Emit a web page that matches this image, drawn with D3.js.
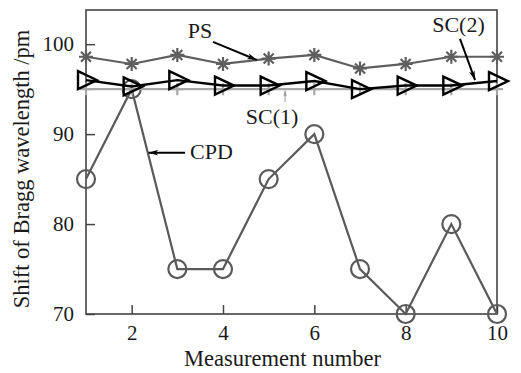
<!DOCTYPE html>
<html>
<head>
<meta charset="utf-8">
<script src="https://cdn.jsdelivr.net/npm/d3@7"></script>
<style>
  html, body { margin: 0; padding: 0; background: #fff; }
  svg { display: block; }
  text { font-family: "Liberation Serif", "Times New Roman", serif; fill: #1a1a1a; }
</style>
</head>
<body>
<svg id="chart" width="521" height="373"></svg>
<script>
// Measurement index
const measurements = [1, 2, 3, 4, 5, 6, 7, 8, 9, 10];
// Bragg wavelength shift (pm) for each sensing scheme
const psValues  = [98.6, 97.8, 98.8, 97.8, 98.4, 98.8, 97.3, 97.8, 98.6, 98.6];
const sc2Values = [96.0, 95.3, 96.0, 95.4, 95.4, 95.9, 95.0, 95.4, 95.4, 95.9];
const sc1Values = [95, 95, 95, 95, 95, 95, 95, 95, 95, 95];
const cpdValues = [85, 95, 75, 75, 85, 90, 75, 70, 80, 70];
// Axis ticks
const xTicks = [2, 4, 6, 8, 10];
const yTicks = [70, 80, 90, 100];
// Callout labels (data coordinates): text anchor, arrow tail, arrow head
const callouts = [
  { label: "PS",    tx: 3.23, ty: 100.7, x1: 3.78, y1: 100.26, x2: 4.74, y2: 98.25, kind: "dark" },
  { label: "SC(2)", tx: 8.58, ty: 101.37, x1: 9.19, y1: 100.59, x2: 9.52, y2: 96.0, kind: "dark" },
  { label: "SC(1)", tx: 4.50, ty: 91.12, x1: 5.36, y1: 93.57, x2: 5.36, y2: 94.85, kind: "light" },
  { label: "CPD",   tx: 3.28, ty: 87.23, x1: 3.17, y1: 87.93, x2: 2.37, y2: 87.93, kind: "dark" }
];

const W = 521, H = 373;
const margin = { left: 86, right: 24, top: 10, bottom: 59 };
const svg = d3.select("#chart");

const x = d3.scaleLinear().domain([1, 10]).range([margin.left, W - margin.right]);
const y = d3.scaleLinear().domain([70, 103.8]).range([H - margin.bottom, margin.top]);

// arrowheads
const defs = svg.append("defs");
defs.append("marker").attr("id", "headDark")
  .attr("viewBox", "0 -5 12 10").attr("refX", 12).attr("refY", 0)
  .attr("markerUnits", "userSpaceOnUse").attr("markerWidth", 12).attr("markerHeight", 8)
  .attr("orient", "auto")
  .append("path").attr("d", "M0,-3.6L12,0L0,3.6L3,0Z").attr("fill", "#000");
defs.append("marker").attr("id", "headLight")
  .attr("viewBox", "0 -5 10 10").attr("refX", 10).attr("refY", 0)
  .attr("markerUnits", "userSpaceOnUse").attr("markerWidth", 7).attr("markerHeight", 6)
  .attr("orient", "auto")
  .append("path").attr("d", "M0,-3L10,0L0,3L2,0Z").attr("fill", "#999");

// axes with inward ticks
const xAxis = d3.axisBottom(x).tickValues(xTicks).tickSizeInner(-9).tickSizeOuter(0).tickPadding(11)
  .tickFormat(d3.format("d"));
const yAxis = d3.axisLeft(y).tickValues(yTicks).tickSizeInner(-9).tickSizeOuter(0).tickPadding(12)
  .tickFormat(d3.format("d"));

const gx = svg.append("g").attr("transform", `translate(0,${H - margin.bottom})`).call(xAxis);
const gy = svg.append("g").attr("transform", `translate(${margin.left},0)`).call(yAxis);
[gx, gy].forEach(g => {
  g.select(".domain").remove();
  g.selectAll(".tick line").attr("stroke", "#444").attr("stroke-width", 1.5);
  g.selectAll(".tick text").style("font-size", "21px").attr("fill", "#1a1a1a")
    .style("font-family", "'Liberation Serif', 'Times New Roman', serif");
});

// frame
svg.append("rect")
  .attr("x", margin.left).attr("y", margin.top)
  .attr("width", W - margin.left - margin.right)
  .attr("height", H - margin.top - margin.bottom)
  .attr("fill", "none").attr("stroke", "#444").attr("stroke-width", 1.6);

// axis titles
svg.append("text")
  .attr("x", x((1 + 10) / 2) - 9).attr("y", 366)
  .attr("text-anchor", "middle").style("font-size", "22.5px")
  .text("Measurement number");
svg.append("text")
  .attr("transform", `translate(29,${(margin.top + H - margin.bottom) / 2 + 7}) rotate(-90)`)
  .attr("text-anchor", "middle").style("font-size", "22.5px")
  .text("Shift of Bragg wavelength /pm");

const line = d3.line().x((d, i) => x(measurements[i])).y(d => y(d));

// CPD: gray line with open circles
svg.append("path").datum(cpdValues).attr("d", line)
  .attr("fill", "none").attr("stroke", "#5a5a5a").attr("stroke-width", 2.2);
svg.append("g").selectAll("circle").data(cpdValues).join("circle")
  .attr("cx", (d, i) => x(measurements[i])).attr("cy", d => y(d)).attr("r", 9)
  .attr("fill", "none").attr("stroke", "#5a5a5a").attr("stroke-width", 2.2);

// SC(1): light gray line with plus markers
svg.append("path").datum(sc1Values).attr("d", line)
  .attr("fill", "none").attr("stroke", "#a8a8a8").attr("stroke-width", 2.2);
svg.append("g").selectAll("path").data(sc1Values).join("path")
  .attr("transform", (d, i) => `translate(${x(measurements[i])},${y(d)})`)
  .attr("d", "M0,-6V6M-6,0H6")
  .attr("stroke", "#a8a8a8").attr("stroke-width", 2.2);

// PS: gray line with asterisk markers
svg.append("path").datum(psValues).attr("d", line)
  .attr("fill", "none").attr("stroke", "#5e5e5e").attr("stroke-width", 2.2);
svg.append("g").selectAll("path").data(psValues).join("path")
  .attr("transform", (d, i) => `translate(${x(measurements[i])},${y(d)})`)
  .attr("d", "M0,-7V7M-7,0H7M-5,-5L5,5M-5,5L5,-5")
  .attr("stroke", "#5e5e5e").attr("stroke-width", 2.2);

// SC(2): black line with right-pointing open triangles
svg.append("path").datum(sc2Values).attr("d", line)
  .attr("fill", "none").attr("stroke", "#000").attr("stroke-width", 2.4);
svg.append("g").selectAll("path").data(sc2Values).join("path")
  .attr("transform", (d, i) => `translate(${x(measurements[i])},${y(d)})`)
  .attr("d", "M-8,-9L11,0L-8,9Z")
  .attr("fill", "none").attr("stroke", "#000").attr("stroke-width", 2.4)
  .attr("stroke-linejoin", "miter");

// callouts
const cg = svg.append("g");
callouts.forEach(c => {
  cg.append("line")
    .attr("x1", x(c.x1)).attr("y1", y(c.y1)).attr("x2", x(c.x2)).attr("y2", y(c.y2))
    .attr("stroke", c.kind === "dark" ? "#000" : "#999")
    .attr("stroke-width", c.kind === "dark" ? 2 : 1)
    .attr("marker-end", c.kind === "dark" ? "url(#headDark)" : "url(#headLight)");
  cg.append("text").attr("x", x(c.tx)).attr("y", y(c.ty))
    .style("font-size", "22px").text(c.label);
});
</script>
</body>
</html>
